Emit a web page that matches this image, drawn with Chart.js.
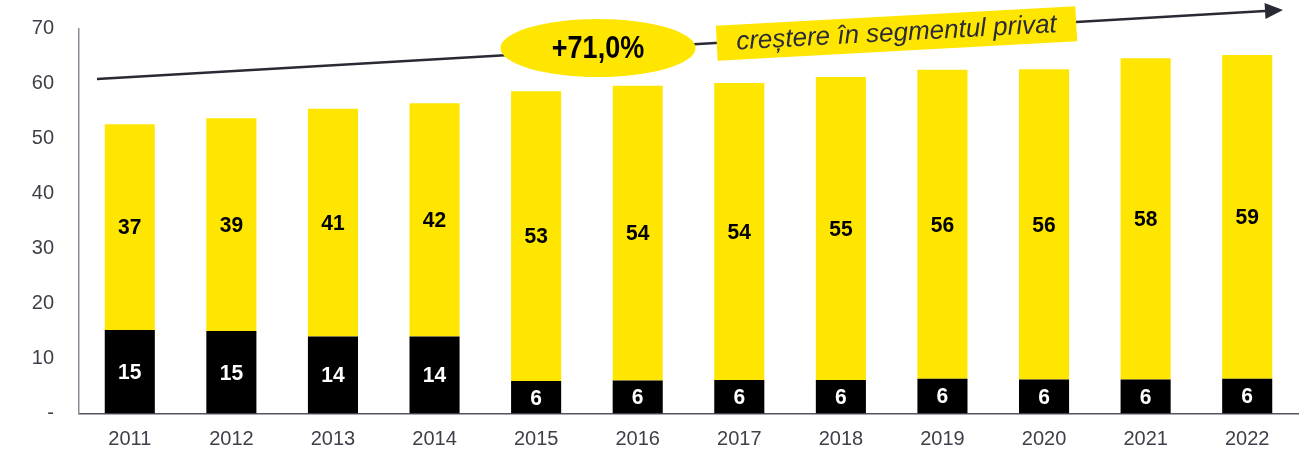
<!DOCTYPE html>
<html>
<head>
<meta charset="utf-8">
<script src="https://cdn.jsdelivr.net/npm/chart.js@4"></script>
<style>
  body { margin: 0; background: #fff; }
  canvas { display: block; }
</style>
</head>
<body>
<canvas id="chart" width="1301" height="449"></canvas>
<script>
const years = ["2011", "2012", "2013", "2014", "2015", "2016", "2017", "2018", "2019", "2020", "2021", "2022"];
const publicSegment = [15.2, 15.0, 14.0, 14.0, 5.9, 6.0, 6.1, 6.1, 6.3, 6.2, 6.2, 6.3];
const privateSegment = [37.4, 38.7, 41.4, 42.4, 52.7, 53.6, 54.0, 55.1, 56.2, 56.4, 58.4, 58.9];
const yTicks = [0, 10, 20, 30, 40, 50, 60, 70];
const growthLabel = "+71,0%";
const arrowLabel = "creștere în segmentul privat";

const FONT = "'Liberation Sans', Arial, sans-serif";
const YELLOW = "#FFE600";
const PLOT_TOP = 28.5;
const PLOT_BOTTOM = 413.5;

// pin the plot area to where the original chart had it
const fixArea = {
  id: "fixArea",
  afterLayout(chart) {
    const a = chart.chartArea;
    const { x, y } = chart.scales;
    a.top = PLOT_TOP;
    a.bottom = PLOT_BOTTOM;
    a.height = a.bottom - a.top;
    y.top = PLOT_TOP;
    y.bottom = PLOT_BOTTOM;
    y.height = a.height;
    x.top = PLOT_BOTTOM;
    x.bottom = chart.height;
    x.height = x.bottom - x.top;
    y.configure();
    x.configure();
  }
};

// values written in the middle of each bar segment (text a bit taller than wide, like the original)
const segmentLabels = {
  id: "segmentLabels",
  afterDatasetsDraw(chart) {
    const ctx = chart.ctx;
    ctx.save();
    ctx.font = "bold 21px " + FONT;
    ctx.textAlign = "center";
    ctx.textBaseline = "middle";
    chart.data.datasets.forEach((ds, i) => {
      const meta = chart.getDatasetMeta(i);
      meta.data.forEach((bar, j) => {
        const p = bar.getProps(["x", "y", "base"], true);
        ctx.save();
        ctx.translate(p.x, (p.y + p.base) / 2 + 1);
        ctx.scale(1, 1.08);
        ctx.fillStyle = ds.labelColor;
        ctx.fillText(Math.round(ds.data[j]), 0, 0);
        ctx.restore();
      });
    });
    ctx.restore();
  }
};

// growth arrow, ellipse and the tilted caption
const growthArrow = {
  id: "growthArrow",
  afterDraw(chart) {
    const ctx = chart.ctx;
    const x0 = 97, y0 = 79, x1 = 1283, y1 = 10;
    const ang = Math.atan2(y1 - y0, x1 - x0);
    const head = 18;
    ctx.save();
    ctx.strokeStyle = "#2a2a35";
    ctx.fillStyle = "#2a2a35";
    ctx.lineWidth = 2.5;
    ctx.beginPath();
    ctx.moveTo(x0, y0);
    ctx.lineTo(x1 - head * Math.cos(ang), y1 - head * Math.sin(ang));
    ctx.stroke();
    ctx.beginPath();
    ctx.moveTo(x1, y1);
    ctx.lineTo(x1 - head * Math.cos(ang) + 8 * Math.sin(ang), y1 - head * Math.sin(ang) - 8 * Math.cos(ang));
    ctx.lineTo(x1 - head * Math.cos(ang) - 8 * Math.sin(ang), y1 - head * Math.sin(ang) + 8 * Math.cos(ang));
    ctx.closePath();
    ctx.fill();

    // ellipse
    ctx.fillStyle = YELLOW;
    ctx.beginPath();
    ctx.ellipse(598, 48, 97.5, 29, 0, 0, Math.PI * 2);
    ctx.fill();
    ctx.save();
    ctx.translate(598, 49);
    ctx.scale(1, 1.15);
    ctx.fillStyle = "#000";
    ctx.font = "bold 27px " + FONT;
    ctx.textAlign = "center";
    ctx.textBaseline = "middle";
    ctx.fillText(growthLabel, 0, 0);
    ctx.restore();

    // tilted caption box
    ctx.translate(896.5, 33.5);
    ctx.rotate(-3.1 * Math.PI / 180);
    ctx.fillStyle = YELLOW;
    ctx.fillRect(-180, -17.5, 360, 35);
    ctx.fillStyle = "#2b2b36";
    ctx.font = "italic 26px " + FONT;
    ctx.textAlign = "center";
    ctx.textBaseline = "middle";
    ctx.fillText(arrowLabel, 0, 0);
    ctx.restore();
  }
};

new Chart(document.getElementById("chart"), {
  type: "bar",
  data: {
    labels: years,
    datasets: [
      {
        label: "Segment public",
        data: publicSegment,
        backgroundColor: "#000000",
        labelColor: "#ffffff",
        categoryPercentage: 1,
        barPercentage: 0.493
      },
      {
        label: "Segment privat",
        data: privateSegment,
        backgroundColor: YELLOW,
        labelColor: "#000000",
        categoryPercentage: 1,
        barPercentage: 0.493
      }
    ]
  },
  options: {
    responsive: false,
    animation: false,
    layout: { autoPadding: false, padding: { top: 20, right: 3, left: 0, bottom: 0 } },
    plugins: {
      legend: { display: false },
      tooltip: { enabled: false }
    },
    scales: {
      x: {
        stacked: true,
        grid: { display: false, drawTicks: false },
        border: { display: true, color: "#55555f", width: 1.5 },
        ticks: { font: { family: FONT, size: 20 }, color: "#3f3f4a", padding: 14, maxRotation: 0 },
        afterFit(scale) { scale.height = 34; }
      },
      y: {
        stacked: true,
        min: 0,
        max: 70,
        grid: { display: false, drawTicks: false },
        border: { display: true, color: "#8c8c96", width: 1.5 },
        afterBuildTicks(scale) { scale.ticks = yTicks.map(v => ({ value: v })); },
        ticks: {
          font: { family: FONT, size: 20 },
          color: "#3f3f4a",
          padding: 25,
          callback: v => v === 0 ? "-" : v
        },
        afterFit(scale) { scale.width = 79; }
      }
    }
  },
  plugins: [fixArea, segmentLabels, growthArrow]
});
</script>
</body>
</html>
